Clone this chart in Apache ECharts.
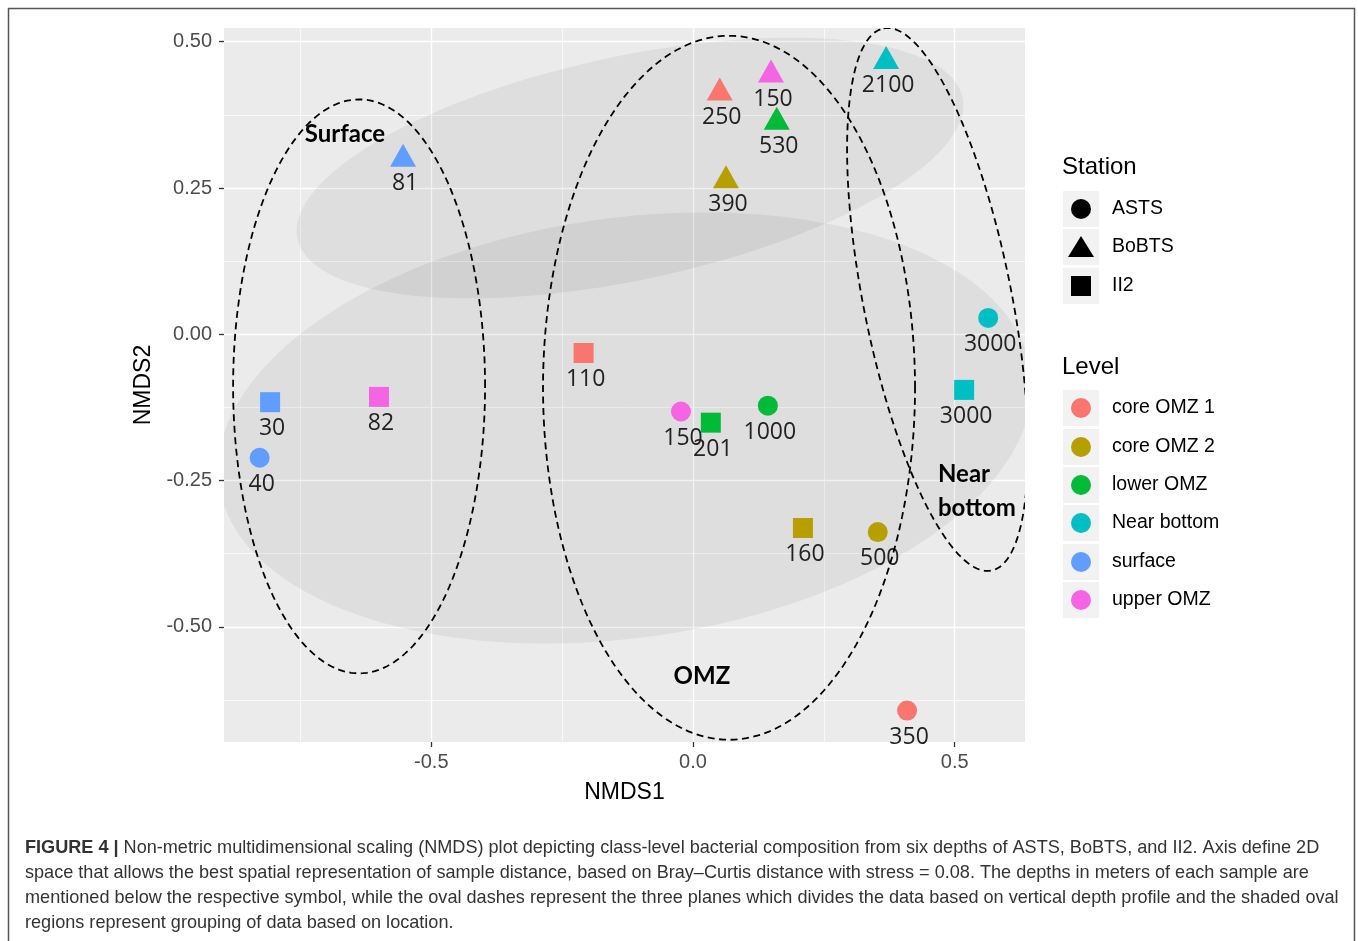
<!DOCTYPE html>
<html><head><meta charset="utf-8">
<script src="https://cdn.jsdelivr.net/npm/echarts@6/dist/echarts.min.js"></script>
<style>html,body{margin:0;padding:0;background:#fff}#c{width:1358px;height:941px}</style>
</head><body><div id="c"></div>
<script>
// ---------- data ----------
const levels = ['core OMZ 1','core OMZ 2','lower OMZ','Near bottom','surface','upper OMZ'];
const stations = ['ASTS','BoBTS','II2'];

const astsDepth = [40, 150, 1000, 500, 350, 3000];
const astsLevel = ['surface','upper OMZ','lower OMZ','core OMZ 2','core OMZ 1','Near bottom'];
const astsX = [-0.828, -0.023, 0.143, 0.353, 0.409, 0.564];
const astsY = [-0.211, -0.132, -0.122, -0.338, -0.643, 0.028];

const bobtsDepth = [81, 150, 250, 390, 530, 2100];
const bobtsLevel = ['surface','upper OMZ','core OMZ 1','core OMZ 2','lower OMZ','Near bottom'];
const bobtsX = [-0.554, 0.149, 0.051, 0.063, 0.160, 0.369];
const bobtsY = [0.306, 0.450, 0.419, 0.269, 0.369, 0.473];

const ii2Depth = [30, 82, 110, 160, 201, 3000];
const ii2Level = ['surface','upper OMZ','core OMZ 1','core OMZ 2','lower OMZ','Near bottom'];
const ii2X = [-0.808, -0.600, -0.209, 0.210, 0.034, 0.518];
const ii2Y = [-0.116, -0.107, -0.032, -0.331, -0.151, -0.095];

// ovals in data space: centre + two conjugate half-axis vectors [cx, cy, ux, uy, vx, vy]
const depthOvals = [
  [-0.638, -0.089, 0.2407, 0, 0, 0.4904],      // Surface
  [0.0688, -0.0914, 0.3554, 0, 0, 0.6015],     // OMZ
  [0.4671, 0.0595, -0.103, 0.4633, 0.1387, 0.0246] // Near bottom
];
const locationOvals = [
  [-0.1204, 0.2842, 0.6353, 0.1208, 0.0445, -0.1871],
  [-0.1299, -0.1601, 0.7755, 0.0974, 0.0558, -0.3553]
];
const ovalNames = ['Surface', 'OMZ', 'Near\nbottom'];
const ovalNameX = [-0.665, 0.017, 0.468];
const ovalNameY = [0.341, -0.584, -0.268];

const xTicks = [-0.5, 0, 0.5];
const xMinor = [-0.75, -0.25, 0.25];
const yTicks = [-0.5, -0.25, 0, 0.25, 0.5];
const yMinor = [-0.625, -0.375, -0.125, 0.125, 0.375];

const caption = [
  ' Non-metric multidimensional scaling (NMDS) plot depicting class-level bacterial composition from six depths of ASTS, BoBTS, and II2. Axis define 2D',
  'space that allows the best spatial representation of sample distance, based on Bray\u2013Curtis distance with stress = 0.08. The depths in meters of each sample are',
  'mentioned below the respective symbol, while the oval dashes represent the three planes which divides the data based on vertical depth profile and the shaded oval',
  'regions represent grouping of data based on location.'
];

// ---------- styles ----------
const levelColors = ['#F8766D','#B79F00','#00BA38','#00BFC4','#619CFF','#F564E3'];
const colorOf = lv => levelColors[levels.indexOf(lv)];

const chart = echarts.init(document.getElementById('c'), null, {renderer: 'canvas'});

function stationSeries(name, symbol, size, xs, ys, lv, depth) {
  return {
    type: 'scatter', name: name, symbol: symbol, symbolSize: size, z: 3,
    silent: true, animation: false,
    data: xs.map((x, i) => ({value: [x, ys[i], depth[i]], itemStyle: {color: colorOf(lv[i]), opacity: 1}})),
    label: {show: true, position: 'bottom', distance: 5, offset: [2, 0], fontFamily: 'Open Sans', fontSize: 23,
            color: '#222', formatter: p => String(p.value[2])}
  };
}

function ovalPoints(api) {
  const cx = api.value(0), cy = api.value(1), ux = api.value(2), uy = api.value(3), vx = api.value(4), vy = api.value(5);
  const pts = [];
  const N = 200;
  for (let k = 0; k < N; k++) {
    const t = 2 * Math.PI * k / N;
    pts.push(api.coord([cx + ux * Math.cos(t) + vx * Math.sin(t), cy + uy * Math.cos(t) + vy * Math.sin(t)]));
  }
  return pts;
}

// legend (graphic)
const LX = 1062;
const graphic = [];
graphic.push({type: 'rect', shape: {x: 8.5, y: 8.5, width: 1346, height: 1100},
  style: {fill: 'none', stroke: '#555', lineWidth: 1.5}, silent: true});
function legendTitle(t, y) {
  graphic.push({type: 'text', x: LX, y: y, style: {text: t, font: '24px "Liberation Sans", Arial, sans-serif', fill: '#000', verticalAlign: 'middle'}});
}
legendTitle('Station', 167);
const stRowY = [209, 247, 286];
stations.forEach((s, i) => {
  const cy = stRowY[i];
  graphic.push({type: 'rect', shape: {x: LX + 1, y: cy - 18, width: 36, height: 36}, style: {fill: '#F2F2F2'}});
  if (i === 0) graphic.push({type: 'circle', shape: {cx: LX + 19, cy: cy, r: 10}, style: {fill: '#000'}});
  if (i === 1) graphic.push({type: 'polygon', shape: {points: [[LX + 19, cy - 11], [LX + 32, cy + 10], [LX + 6, cy + 10]]}, style: {fill: '#000'}});
  if (i === 2) graphic.push({type: 'rect', shape: {x: LX + 9, y: cy - 10, width: 20, height: 20}, style: {fill: '#000'}});
  graphic.push({type: 'text', x: LX + 50, y: cy, style: {text: s, font: '19.5px "Liberation Sans", Arial, sans-serif', fill: '#000', verticalAlign: 'middle'}});
});
legendTitle('Level', 367);
const lvRowY = [408, 447, 485, 523, 562, 600];
levels.forEach((l, i) => {
  const cy = lvRowY[i];
  graphic.push({type: 'rect', shape: {x: LX + 1, y: cy - 18, width: 36, height: 36}, style: {fill: '#F2F2F2'}});
  graphic.push({type: 'circle', shape: {cx: LX + 19, cy: cy, r: 10}, style: {fill: levelColors[i]}});
  graphic.push({type: 'text', x: LX + 50, y: cy, style: {text: l, font: '19.5px "Liberation Sans", Arial, sans-serif', fill: '#000', verticalAlign: 'middle'}});
});
// caption
caption.forEach((line, i) => {
  graphic.push({type: 'text', x: 25, y: 848 + i * 25, style: {
    text: i === 0 ? '{b|FIGURE 4 |}' + line : line,
    font: '18.1px "Liberation Sans", Arial, sans-serif', fill: '#333', verticalAlign: 'middle',
    rich: {b: {fontWeight: 'bold', fontSize: 18.1, fontFamily: 'Liberation Sans', fill: '#333'}}
  }});
});

const axisLabelStyle = {color: '#4D4D4D', fontSize: 20, fontFamily: 'Liberation Sans'};
const option = {
  backgroundColor: '#fff',
  animation: false,
  grid: {left: 224, top: 28, width: 801, height: 714, show: true, backgroundColor: '#EBEBEB', borderWidth: 0},
  xAxis: [
    {type: 'value', min: -0.8961, max: 0.6343, name: 'NMDS1', nameLocation: 'middle', nameGap: 39,
     nameTextStyle: {color: '#000', fontSize: 23, fontFamily: 'Liberation Sans'},
     axisLine: {show: false, onZero: false},
     axisTick: {show: true, customValues: xTicks, length: 5, lineStyle: {color: '#333', width: 1.3}},
     axisLabel: Object.assign({customValues: xTicks, margin: 10, formatter: v => v.toFixed(1)}, axisLabelStyle),
     splitLine: {show: true, lineStyle: {color: '#fff', width: 1.4}}},
    {type: 'value', min: -0.8961, max: 0.6343, position: 'top',
     axisLine: {show: false, onZero: false}, axisLabel: {show: false},
     axisTick: {show: false, customValues: xMinor},
     splitLine: {show: true, lineStyle: {color: '#fff', width: 0.7}}}
  ],
  yAxis: [
    {type: 'value', min: -0.6967, max: 0.5234, name: 'NMDS2', nameLocation: 'middle', nameGap: 58,
     nameTextStyle: {color: '#000', fontSize: 23, fontFamily: 'Liberation Sans'},
     axisLine: {show: false, onZero: false},
     axisTick: {show: true, customValues: yTicks, length: 5, lineStyle: {color: '#333', width: 1.3}},
     axisLabel: Object.assign({customValues: yTicks, margin: 12, formatter: v => v.toFixed(2)}, axisLabelStyle),
     splitLine: {show: true, lineStyle: {color: '#fff', width: 1.4}}},
    {type: 'value', min: -0.6967, max: 0.5234, position: 'right',
     axisLine: {show: false, onZero: false}, axisLabel: {show: false},
     axisTick: {show: false, customValues: yMinor},
     splitLine: {show: true, lineStyle: {color: '#fff', width: 0.7}}}
  ],
  series: [
    {type: 'custom', name: 'location', z: 1, clip: true, silent: true, data: locationOvals,
     renderItem: (params, api) => ({type: 'polygon', shape: {points: ovalPoints(api)},
       style: {fill: 'rgba(0,0,0,0.055)', stroke: null}})},
    stationSeries('ASTS', 'circle', 20, astsX, astsY, astsLevel, astsDepth),
    stationSeries('BoBTS', 'triangle', [26, 23], bobtsX, bobtsY, bobtsLevel, bobtsDepth),
    stationSeries('II2', 'rect', 20, ii2X, ii2Y, ii2Level, ii2Depth),
    {type: 'custom', name: 'depth planes', z: 5, clip: true, silent: true, data: depthOvals,
     renderItem: (params, api) => ({type: 'polygon', shape: {points: ovalPoints(api)},
       style: {fill: 'none', stroke: '#000', lineWidth: 1.8, lineDash: [7, 4.5]}})},
    {type: 'custom', name: 'plane names', z: 6, silent: true,
     data: ovalNameX.map((x, i) => [x, ovalNameY[i]]),
     renderItem: (params, api) => {
       const p = api.coord([api.value(0), api.value(1)]);
       const t = ovalNames[params.dataIndex];
       return {type: 'text', x: p[0], y: p[1], style: {text: t, fontFamily: 'Lato', fontWeight: 'bold', fontSize: 24,
         fill: '#000', align: t.indexOf('\n') >= 0 ? 'left' : 'center', verticalAlign: 'middle', lineHeight: 34}};
     }}
  ],
  graphic: graphic
};
chart.setOption(option);
</script></body></html>
